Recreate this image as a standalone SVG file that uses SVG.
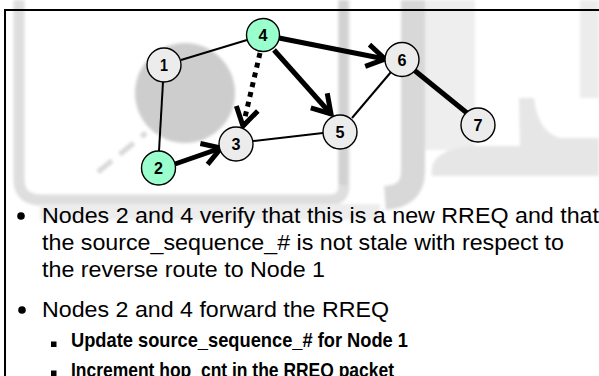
<svg xmlns="http://www.w3.org/2000/svg" width="599" height="376" viewBox="0 0 599 376">
  <defs>
    <style>
      .wm-band { fill: none; stroke-linecap: butt; stroke-linejoin: round; }
      .link { stroke: #000; stroke-width: 2; fill: none; }
      .flow { stroke: #000; stroke-width: 5; fill: none; }
      .node-plain { fill: #ececec; stroke: #000; stroke-width: 1.4; }
      .node-green { fill: #99ffcc; stroke: #000; stroke-width: 1.4; }
      .nlabel { font-family: "Liberation Sans", Arial, sans-serif; font-weight: bold; font-size: 17px; fill: #000; text-anchor: middle; }
      .body { font-family: "Liberation Sans", Arial, sans-serif; font-size: 22.5px; fill: #000; }
      .sub { font-family: "Liberation Sans", Arial, sans-serif; font-weight: bold; font-size: 21px; fill: #000; }
    </style>
    <marker id="chev" markerUnits="userSpaceOnUse" markerWidth="28" markerHeight="28" viewBox="0 0 28 28" refX="23" refY="14" orient="auto">
      <path d="M5,3 L23,14 L5,25" fill="none" stroke="#000" stroke-width="5" stroke-linejoin="miter"/>
    </marker>
    <filter id="soft" x="-10%" y="-10%" width="120%" height="120%">
      <feGaussianBlur stdDeviation="1.5"/>
    </filter>
  </defs>

  <rect width="599" height="376" fill="#fff"/>

  <!-- faded background logo -->
  <g id="watermark" filter="url(#soft)">
    <circle cx="185" cy="93" r="50" fill="#cdcdcd"/>
    <path class="wm-band" d="M19,0 V180 Q19,200 42,200 H330 Q344,200 344,185 V0" stroke="#dedede" stroke-width="11"/>
    <path class="wm-band" d="M40,212 H380" stroke="#ededed" stroke-width="16"/>
    <path class="wm-band" d="M343,0 V185" stroke="#d2d2d2" stroke-width="9"/>
    <path class="wm-band" d="M413,0 V172 Q413,196 385,198" stroke="#d8d8d8" stroke-width="24"/>
    <rect x="425" y="0" width="50" height="150" fill="#eeeeee"/>
    <path d="M519,98 H534 Q538,132 560,138 H599 V176 H432 Q428,150 470,146 H520 Z" fill="#e6e6e6"/>
    <rect x="580" y="0" width="19" height="98" fill="#ececec"/>
    <line x1="98" y1="172" x2="146" y2="133" stroke="#d8d8d8" stroke-width="5" stroke-dasharray="18 10"/>
  </g>

  <!-- slide frame -->
  <path d="M5,376 V10 H599" fill="none" stroke="#000" stroke-width="2"/>

  <!-- connectors -->
  <g id="connectors">
    <line class="link" x1="181" y1="60" x2="247" y2="40"/>
    <line class="link" x1="163" y1="82" x2="159" y2="151"/>
    <line class="link" x1="253" y1="141" x2="323" y2="133"/>
    <line class="link" x1="352" y1="118" x2="391" y2="72"/>
    <line class="flow" x1="414" y1="70" x2="467" y2="113"/>
    <line class="flow" x1="175" y1="164" x2="221" y2="148" marker-end="url(#chev)"/>
    <line class="flow" x1="279" y1="38" x2="385" y2="59" marker-end="url(#chev)"/>
    <line class="flow" x1="274" y1="50" x2="331" y2="114" marker-end="url(#chev)"/>
    <line class="flow" x1="260" y1="53" x2="243" y2="126" stroke-dasharray="5 5" marker-end="url(#chev)"/>
  </g>

  <!-- nodes -->
  <g id="node1">
    <circle class="node-plain" cx="164" cy="65" r="17"/>
    <text class="nlabel" x="164" y="71" textLength="8" lengthAdjust="spacingAndGlyphs">1</text>
  </g>
  <g id="node2">
    <circle class="node-green" cx="158.5" cy="168" r="17"/>
    <text class="nlabel" x="158.5" y="174" textLength="9" lengthAdjust="spacingAndGlyphs">2</text>
  </g>
  <g id="node3">
    <circle class="node-plain" cx="236" cy="144" r="17"/>
    <text class="nlabel" x="236" y="150" textLength="9" lengthAdjust="spacingAndGlyphs">3</text>
  </g>
  <g id="node4">
    <circle class="node-green" cx="263" cy="35" r="16.5"/>
    <text class="nlabel" x="263" y="41" textLength="9" lengthAdjust="spacingAndGlyphs">4</text>
  </g>
  <g id="node5">
    <circle class="node-plain" cx="340" cy="132" r="17"/>
    <text class="nlabel" x="340" y="138" textLength="9" lengthAdjust="spacingAndGlyphs">5</text>
  </g>
  <g id="node6">
    <circle class="node-plain" cx="402" cy="59.5" r="17"/>
    <text class="nlabel" x="402" y="65.5" textLength="9" lengthAdjust="spacingAndGlyphs">6</text>
  </g>
  <g id="node7">
    <circle class="node-plain" cx="478" cy="125" r="17"/>
    <text class="nlabel" x="478" y="131" textLength="9" lengthAdjust="spacingAndGlyphs">7</text>
  </g>

  <!-- bullet text -->
  <g id="bullets">
    <circle cx="21" cy="216" r="3.8" fill="#000"/>
    <text class="body" x="42" y="223" textLength="557" lengthAdjust="spacingAndGlyphs">Nodes 2 and 4 verify that this is a new RREQ and that</text>
    <text class="body" x="42" y="250" textLength="522" lengthAdjust="spacingAndGlyphs">the source_sequence_# is not stale with respect to</text>
    <text class="body" x="42" y="277" textLength="283" lengthAdjust="spacingAndGlyphs">the reverse route to Node 1</text>
    <circle cx="22" cy="310" r="3.8" fill="#000"/>
    <text class="body" x="42" y="317" textLength="347" lengthAdjust="spacingAndGlyphs">Nodes 2 and 4 forward the RREQ</text>
    <rect x="51" y="341.5" width="5.5" height="5.5" fill="#000"/>
    <text class="sub" x="71" y="347" textLength="337" lengthAdjust="spacingAndGlyphs">Update source_sequence_# for Node 1</text>
    <rect x="51" y="370.5" width="5.5" height="5.5" fill="#000"/>
    <text class="sub" x="71" y="377" textLength="323" lengthAdjust="spacingAndGlyphs">Increment hop_cnt in the RREQ packet</text>
  </g>
</svg>
